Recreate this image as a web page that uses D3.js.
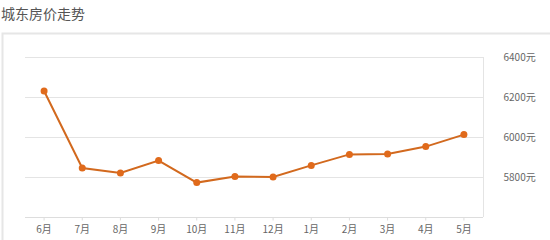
<!DOCTYPE html>
<html>
<head>
<meta charset="utf-8">
<script src="https://cdn.jsdelivr.net/npm/d3@7"></script>
<style>
  body { margin: 0; background: #fff; font-family: "Noto Sans CJK SC", "Noto Sans", sans-serif; }
</style>
</head>
<body>
<div id="chart"></div>
<script>
const months = ["6月", "7月", "8月", "9月", "10月", "11月", "12月", "1月", "2月", "3月", "4月", "5月"];
const prices = [6230, 5845, 5820, 5882, 5772, 5803, 5800, 5858, 5913, 5915, 5952, 6012];
const yTicks = [5800, 6000, 6200, 6400];

const width = 550, height = 240;
const svg = d3.select("#chart").append("svg")
    .attr("width", width)
    .attr("height", height);

// title
svg.append("text")
    .attr("x", 1)
    .attr("y", 19)
    .attr("fill", "#555")
    .style("font-size", "14px")
    .text("城东房价走势");

// panel border
svg.append("path")
    .attr("d", "M2.5,240 V33.5 H550")
    .attr("fill", "none")
    .attr("stroke", "#e6e6e6")
    .attr("stroke-width", 2);

const mLeft = 25, mRight = 483, mTop = 57, mBottom = 217;

const x = d3.scaleBand().domain(months).range([mLeft, mRight]);
const y = d3.scaleLinear().domain([5600, 6400]).range([mBottom, mTop]);

// grid
svg.append("g").selectAll("line")
    .data(yTicks)
    .join("line")
    .attr("x1", mLeft).attr("x2", mRight)
    .attr("y1", d => Math.round(y(d)) + 0.5).attr("y2", d => Math.round(y(d)) + 0.5)
    .attr("stroke", "#e4e4e4");

// right axis
const yAxis = svg.append("g")
    .attr("transform", `translate(${mRight + 0.5},0)`)
    .call(d3.axisRight(y).tickValues(yTicks).tickSize(0).tickPadding(20).tickFormat(d => d + "元"));
yAxis.select(".domain").attr("stroke", "#e4e4e4").attr("d", `M0,${mTop}V${mBottom}`);
yAxis.selectAll("text").attr("fill", "#666").style("font-size", "10px")
    .style("font-family", "'Noto Sans CJK SC', sans-serif");

// bottom axis
const xAxis = svg.append("g")
    .attr("transform", `translate(0,${mBottom + 0.5})`)
    .call(d3.axisBottom(x).tickSize(3).tickPadding(5));
xAxis.select(".domain").attr("stroke", "#ddd").attr("d", `M${mLeft},0H${mRight}`);
xAxis.selectAll(".tick line").attr("stroke", "#ddd");
xAxis.selectAll("text").attr("fill", "#666").style("font-size", "10px")
    .style("font-family", "'Noto Sans CJK SC', sans-serif");

const cx = d => x(d) + x.bandwidth() / 2;

// line
svg.append("path")
    .datum(prices)
    .attr("fill", "none")
    .attr("stroke", "#d2691e")
    .attr("stroke-width", 2)
    .attr("d", d3.line().x((d, i) => cx(months[i])).y(d => y(d)));

svg.append("g").selectAll("circle")
    .data(prices)
    .join("circle")
    .attr("cx", (d, i) => cx(months[i]))
    .attr("cy", d => y(d))
    .attr("r", 3.5)
    .attr("fill", "#e06a1b");
</script>
</body>
</html>
